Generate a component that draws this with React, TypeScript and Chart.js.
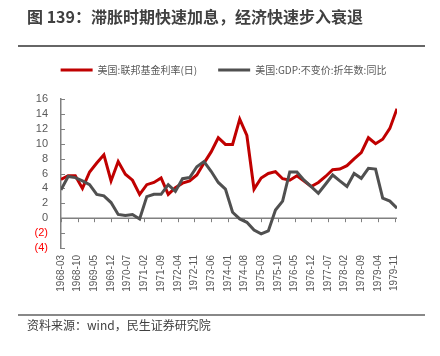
import React, { useEffect, useRef } from "react";
import { Chart, registerables } from "chart.js";

Chart.register(...registerables);

const titleText = "图 139：滞胀时期快速加息，经济快速步入衰退";
const sourceText = "资料来源：wind，民生证券研究院";
const seriesNames = ["美国:联邦基金利率(日)", "美国:GDP:不变价:折年数:同比"];

const quarterDates = [
  "1968-03", "1968-06", "1968-09", "1968-12",
  "1969-03", "1969-06", "1969-09", "1969-12",
  "1970-03", "1970-06", "1970-09", "1970-12",
  "1971-03", "1971-06", "1971-09", "1971-12",
  "1972-03", "1972-06", "1972-09", "1972-12",
  "1973-03", "1973-06", "1973-09", "1973-12",
  "1974-03", "1974-06", "1974-09", "1974-12",
  "1975-03", "1975-06", "1975-09", "1975-12",
  "1976-03", "1976-06", "1976-09", "1976-12",
  "1977-03", "1977-06", "1977-09", "1977-12",
  "1978-03", "1978-06", "1978-09", "1978-12",
  "1979-03", "1979-06", "1979-09", "1979-12",
];

const fedFundsRate = [
  5.2, 5.7, 5.7, 4.0,
  6.2, 7.4, 8.5, 5.0,
  7.6, 5.9, 5.1, 3.2,
  4.5, 4.8, 5.4, 3.2,
  4.1, 4.7, 5.0, 5.8,
  7.4, 8.9, 10.8, 9.9,
  9.9, 13.3, 11.1, 3.9,
  5.4, 6.0, 6.25, 5.3,
  5.1, 5.7, 5.0, 4.25,
  4.8, 5.6, 6.5, 6.6,
  7.05, 7.95, 8.8, 10.8,
  10.0, 10.6, 12.05, 14.7,
];

const realGdpYoY = [
  3.8, 5.6, 5.45, 5.0,
  4.5, 3.2, 3.0, 2.1,
  0.5, 0.35, 0.5, -0.1,
  2.9, 3.2, 3.2, 4.5,
  3.6, 5.3, 5.45, 6.9,
  7.6, 6.3, 4.8, 3.9,
  0.8, -0.1, -0.55, -1.6,
  -2.1, -1.7, 1.1, 2.3,
  6.2, 6.2, 5.1, 4.25,
  3.35, 4.55, 5.8, 5.0,
  4.25, 6.0, 5.35, 6.7,
  6.6, 2.7, 2.3, 1.35,
];

const axisStart = "1968-03";
const axisEnd = "1979-12";
const xTickStepMonths = 7;
const yMin = -4;
const yMax = 16;
const yStep = 2;

const RED = "#C00000";
const GRAY = "#505050";
const AXIS = "#808080";
const LABEL = "#595959";
const NEG = "#FF0000";

const cjk = '"Noto Sans CJK SC", "Noto Sans", sans-serif';
const latin = '"Liberation Sans", Arial, sans-serif';

const [baseYear, baseMonth] = axisStart.split("-").map(Number);
const monthIndex = (d: string) => {
  const [yy, mm] = d.split("-").map(Number);
  return (yy - baseYear) * 12 + (mm - baseMonth);
};
const monthLabel = (v: number) => {
  const total = baseYear * 12 + (baseMonth - 1) + Math.round(v);
  const yy = Math.floor(total / 12);
  const mm = (total % 12) + 1;
  return `${yy}-${String(mm).padStart(2, "0")}`;
};

const axisDecor = {
  id: "axisDecor",
  beforeDatasetsDraw(chart: any) {
    const { ctx, chartArea, scales } = chart;
    const x = scales.x;
    const y = scales.y;
    const y0 = y.getPixelForValue(0);
    ctx.save();
    ctx.strokeStyle = AXIS;
    ctx.lineWidth = 1.5;
    ctx.beginPath();
    ctx.moveTo(chartArea.left, y0);
    ctx.lineTo(chartArea.right, y0);
    ctx.stroke();
    ctx.lineWidth = 1;
    ctx.beginPath();
    x.ticks.forEach((t: any) => {
      const px = Math.round(x.getPixelForValue(t.value)) + 0.5;
      ctx.moveTo(px, y0);
      ctx.lineTo(px, y0 + 4);
    });
    y.ticks.forEach((t: any) => {
      const py = Math.round(y.getPixelForValue(t.value)) + 0.5;
      ctx.moveTo(chartArea.left, py);
      ctx.lineTo(chartArea.left + 4, py);
    });
    ctx.stroke();
    ctx.restore();
  },
};

const legendShift = 25;

const legendGap = {
  id: "legendGap",
  beforeUpdate(chart: any) {
    const lg = chart.legend;
    if (lg && !lg.__patched) {
      const fit = lg.fit;
      lg.fit = function () {
        fit.call(this);
        this.height += 14;
      };
      lg.__patched = true;
    }
  },
  afterLayout(chart: any) {
    const lg = chart.legend;
    if (lg) {
      lg.left += legendShift;
      lg.right += legendShift;
    }
  },
};

export default function App() {
  const ref = useRef<HTMLCanvasElement | null>(null);

  useEffect(() => {
    if (!ref.current) return;
    const chart = new Chart(ref.current, {
      type: "line",
      data: {
        datasets: [
          {
            label: seriesNames[0],
            data: quarterDates.map((d, i) => ({ x: monthIndex(d), y: fedFundsRate[i] })),
            borderColor: RED,
            backgroundColor: RED,
            borderWidth: 3,
            pointRadius: 0,
            tension: 0,
            order: 2,
          },
          {
            label: seriesNames[1],
            data: quarterDates.map((d, i) => ({ x: monthIndex(d), y: realGdpYoY[i] })),
            borderColor: GRAY,
            backgroundColor: GRAY,
            borderWidth: 3,
            pointRadius: 0,
            tension: 0,
            order: 1,
          },
        ],
      },
      options: {
        responsive: false,
        animation: false,
        devicePixelRatio: 1,
        layout: { padding: { left: 0, right: 43, top: 44, bottom: 58 } },
        plugins: {
          tooltip: { enabled: false },
          legend: {
            position: "top",
            labels: {
              boxWidth: 32,
              boxHeight: 3,
              padding: 21,
              color: LABEL,
              font: { family: cjk, size: 10 },
              sort: (a: any, b: any) => a.datasetIndex - b.datasetIndex,
              generateLabels: (c: any) =>
                (Chart.defaults.plugins.legend.labels as any)
                  .generateLabels(c)
                  .map((l: any) => ({ ...l, lineWidth: 0 })),
            },
          },
        },
        scales: {
          x: {
            type: "linear",
            position: "bottom",
            min: 0,
            max: monthIndex(axisEnd),
            grid: { display: false, drawTicks: false },
            border: { display: false },
            ticks: {
              stepSize: xTickStepMonths,
              includeBounds: false,
              autoSkip: false,
              minRotation: 90,
              maxRotation: 90,
              padding: 7,
              color: LABEL,
              font: { family: latin, size: 10 },
              callback: (v: any) => monthLabel(Number(v)),
            },
            afterFit: (s: any) => {
              s.height = 50;
              s.paddingLeft = 0;
              s.paddingRight = 0;
            },
          },
          y: {
            min: yMin,
            max: yMax,
            grid: { display: false, drawTicks: false },
            border: { display: true, color: AXIS, width: 1.5 },
            ticks: {
              stepSize: yStep,
              autoSkip: false,
              padding: 13,
              font: { family: latin, size: 11 },
              color: (c: any) => (c.tick && c.tick.value < 0 ? NEG : LABEL),
              callback: (v: any) => (Number(v) < 0 ? `(${-Number(v)})` : `${v}`),
            },
            afterFit: (s: any) => {
              s.width = 61;
            },
          },
        },
      },
      plugins: [axisDecor, legendGap],
    } as any);
    return () => chart.destroy();
  }, []);

  return (
    <div
      style={{
        position: "fixed",
        left: 0,
        top: 0,
        width: 440,
        height: 356,
        background: "#fff",
        overflow: "hidden",
      }}
    >
      <canvas ref={ref} width={440} height={356} style={{ position: "absolute", left: 0, top: 0 }} />
      <div
        style={{
          position: "absolute",
          left: 27,
          top: 6,
          fontFamily: cjk,
          fontWeight: 700,
          fontSize: 16,
          lineHeight: "20px",
          color: "#404040",
          whiteSpace: "nowrap",
        }}
      >
        {titleText}
      </div>
      <div style={{ position: "absolute", left: 18, top: 45, width: 407, height: 2, background: "#666" }} />
      <div style={{ position: "absolute", left: 18, top: 314, width: 407, height: 2, background: "#888" }} />
      <div
        style={{
          position: "absolute",
          left: 27,
          top: 317,
          fontFamily: cjk,
          fontSize: 12,
          lineHeight: "16px",
          color: "#404040",
          whiteSpace: "nowrap",
        }}
      >
        {sourceText}
      </div>
    </div>
  );
}
